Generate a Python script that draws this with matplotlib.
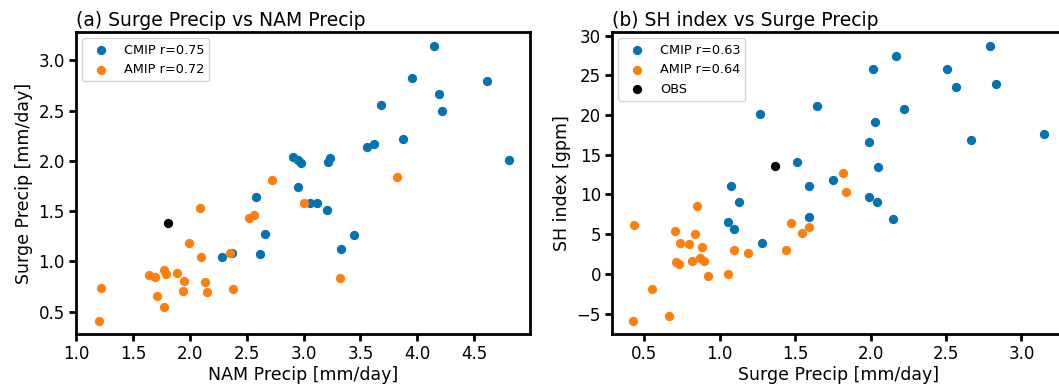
import numpy as np
import matplotlib
matplotlib.use('Agg')
import matplotlib.pyplot as plt

# (a) NAM precip vs surge precip
cmip_nam = [4.15, 3.95, 4.61, 4.19, 3.68, 4.22, 3.87, 3.56, 3.62, 2.91, 2.95, 2.975, 3.23,
            3.215, 4.81, 2.95, 2.58, 2.66, 2.62, 2.28, 2.37, 3.06, 3.12, 3.21, 3.44, 3.325]
cmip_surge_a = [3.145, 2.82, 2.79, 2.66, 2.56, 2.50, 2.22, 2.14, 2.165, 2.04, 2.01, 1.98, 2.03,
                1.99, 2.01, 1.74, 1.64, 1.27, 1.07, 1.04, 1.085, 1.58, 1.58, 1.51, 1.26, 1.12]
amip_nam = [2.72, 3.82, 3.0, 2.09, 2.52, 2.56, 1.99, 2.35, 2.10, 1.64, 1.69, 1.77,
            1.79, 1.89, 1.95, 2.13, 1.94, 2.15, 2.38, 1.71, 1.77, 1.22, 1.20, 3.32]
amip_surge_a = [1.81, 1.835, 1.58, 1.535, 1.43, 1.46, 1.18, 1.085, 1.045, 0.86, 0.84, 0.91,
                0.87, 0.885, 0.80, 0.79, 0.70, 0.69, 0.72, 0.65, 0.54, 0.73, 0.41, 0.83]
obs_nam = [1.81]
obs_surge_a = [1.38]

# (b) surge precip vs SH index
cmip_surge_b = [1.265, 1.647, 1.516, 2.79, 2.17, 2.016, 2.51, 2.569, 2.83, 2.22, 2.03, 1.99, 2.665,
                3.15, 2.05, 1.75, 1.59, 1.993, 2.04, 2.147, 1.59, 1.078, 1.13, 1.053, 1.096, 1.283]
cmip_sh = [20.08, 21.14, 14.07, 28.72, 27.4, 25.84, 25.76, 23.5, 23.9, 20.8, 19.06, 16.57, 16.86,
           17.58, 13.47, 11.82, 11.05, 9.7, 9.1, 6.91, 7.2, 11.1, 9.02, 6.53, 5.64, 3.9]
amip_surge_b = [0.849, 0.43, 0.705, 0.838, 0.738, 0.80, 0.88, 1.098, 1.187, 1.438, 1.47, 1.543, 1.59,
                0.713, 0.733, 0.816, 0.871, 0.896, 0.92, 1.056, 0.55, 0.663, 0.423, 1.82, 1.84]
amip_sh = [8.6, 6.15, 5.42, 5.0, 3.94, 3.73, 3.35, 3.01, 2.67, 2.97, 6.44, 5.17, 5.84,
           1.49, 1.27, 1.57, 2.03, 1.57, -0.25, -0.04, -1.94, -5.34, -5.88, 12.67, 10.29]
obs_surge_b = [1.369]
obs_sh = [13.56]

c_cmip = '#0173b2'
c_amip = '#ff7f0e'
ms = 32

fig = plt.figure(figsize=(10.59, 3.87), dpi=100)
ax1 = fig.add_axes([0.0718, 0.1362, 0.4287, 0.7811])
ax2 = fig.add_axes([0.5779, 0.1362, 0.4274, 0.7811])

ax1.scatter(cmip_nam, cmip_surge_a, s=ms, color=c_cmip, label='CMIP r=0.75', zorder=3)
ax1.scatter(amip_nam, amip_surge_a, s=ms, color=c_amip, label='AMIP r=0.72', zorder=3)
ax1.scatter(obs_nam, obs_surge_a, s=ms, color='black', zorder=3)
ax1.set_xlabel('NAM Precip [mm/day]', fontsize=12.5, labelpad=2)
ax1.set_ylabel('Surge Precip [mm/day]', fontsize=12.5)
ax1.set_title('(a) Surge Precip vs NAM Precip', loc='left', fontsize=13.5, pad=4)
ax1.set_xticks([1.0, 1.5, 2.0, 2.5, 3.0, 3.5, 4.0, 4.5])
ax1.set_yticks([0.5, 1.0, 1.5, 2.0, 2.5, 3.0])
ax1.legend(loc='upper left', fontsize=9.3)

ax2.scatter(cmip_surge_b, cmip_sh, s=ms, color=c_cmip, label='CMIP r=0.63', zorder=3)
ax2.scatter(amip_surge_b, amip_sh, s=ms, color=c_amip, label='AMIP r=0.64', zorder=3)
ax2.scatter(obs_surge_b, obs_sh, s=ms, color='black', label='OBS', zorder=3)
ax2.set_xlabel('Surge Precip [mm/day]', fontsize=12.5, labelpad=2)
ax2.set_ylabel('SH index [gpm]', fontsize=12.5)
ax2.set_title('(b) SH index vs Surge Precip', loc='left', fontsize=13.5, pad=4)
ax2.set_xticks([0.5, 1.0, 1.5, 2.0, 2.5, 3.0])
ax2.set_yticks([-5, 0, 5, 10, 15, 20, 25, 30])
ax2.legend(loc='upper left', fontsize=9.3)

for ax in [ax1, ax2]:
    for sp in ax.spines.values():
        sp.set_linewidth(2)
    ax.tick_params(labelsize=12, width=2, length=5, pad=3)

fig.savefig('out.png', dpi=100)
